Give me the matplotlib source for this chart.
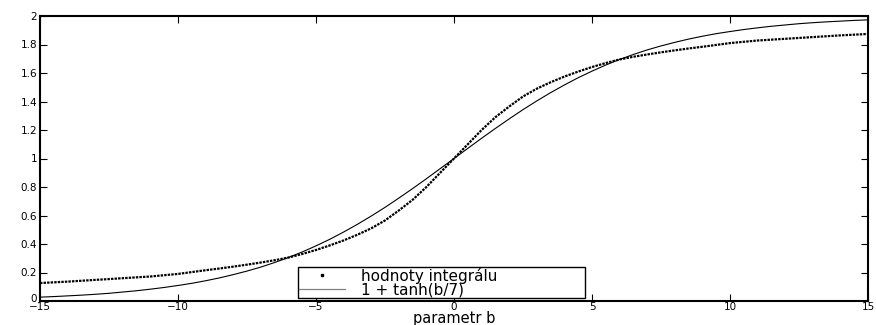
import matplotlib
matplotlib.use("Agg")
import matplotlib.pyplot as plt
import matplotlib.transforms as mtransforms
from matplotlib.lines import Line2D

plt.rcParams['font.family'] = ['DejaVu Sans']

# parameter b (step 0.5)
b_values = [-15.0, -14.5, -14.0, -13.5, -13.0, -12.5, -12.0, -11.5, -11.0, -10.5,
            -10.0, -9.5, -9.0, -8.5, -8.0, -7.5, -7.0, -6.5, -6.0, -5.5,
            -5.0, -4.5, -4.0, -3.5, -3.0, -2.5, -2.0, -1.5, -1.0, -0.5,
            0.0, 0.5, 1.0, 1.5, 2.0, 2.5, 3.0, 3.5, 4.0, 4.5,
            5.0, 5.5, 6.0, 6.5, 7.0, 7.5, 8.0, 8.5, 9.0, 9.5,
            10.0, 10.5, 11.0, 11.5, 12.0, 12.5, 13.0, 13.5, 14.0, 14.5, 15.0]

# "hodnoty integrálu"
integral_values = [0.126, 0.131, 0.136, 0.142, 0.148, 0.154, 0.160, 0.166, 0.172, 0.181,
                   0.190, 0.203, 0.216, 0.228, 0.241, 0.255, 0.270, 0.286, 0.305, 0.330,
                   0.358, 0.390, 0.425, 0.465, 0.510, 0.565, 0.635, 0.710, 0.800, 0.900,
                   1.000, 1.100, 1.200, 1.290, 1.365, 1.435, 1.490, 1.535, 1.575, 1.610,
                   1.642, 1.670, 1.695, 1.714, 1.730, 1.745, 1.759, 1.772, 1.784, 1.797,
                   1.810, 1.819, 1.828, 1.834, 1.840, 1.846, 1.852, 1.858, 1.864, 1.869, 1.874]

# "1 + tanh(b/7)"
tanh_values = [0.027, 0.031, 0.036, 0.041, 0.047, 0.054, 0.063, 0.072, 0.083, 0.095,
               0.109, 0.124, 0.142, 0.162, 0.185, 0.210, 0.238, 0.270, 0.305, 0.344,
               0.387, 0.433, 0.484, 0.538, 0.596, 0.657, 0.722, 0.789, 0.858, 0.929,
               1.000, 1.071, 1.142, 1.211, 1.278, 1.343, 1.404, 1.462, 1.516, 1.567,
               1.613, 1.656, 1.695, 1.730, 1.762, 1.790, 1.815, 1.838, 1.858, 1.876,
               1.891, 1.905, 1.917, 1.928, 1.937, 1.946, 1.953, 1.959, 1.964, 1.969, 1.973]

x_ticks = [-15, -10, -5, 0, 5, 10, 15]
y_ticks = [0, 0.2, 0.4, 0.6, 0.8, 1.0, 1.2, 1.4, 1.6, 1.8, 2.0]
y_tick_labels = ["0", "0.2", "0.4", "0.6", "0.8", "1", "1.2", "1.4", "1.6", "1.8", "2"]

fig = plt.figure(figsize=(8.76, 3.25), dpi=100)
ax = fig.add_axes([40/876, 1-301/325, 828/876, 285/325])

ax.plot(b_values, integral_values, color='black', lw=1.6, linestyle=(0, (1.1, 0.5)))
ax.plot(b_values, tanh_values, color='black', lw=0.8)

ax.set_xlim(-15, 15)
ax.set_ylim(0, 2)
ax.set_xticks(x_ticks)
ax.set_yticks(y_ticks)
ax.set_yticklabels(y_tick_labels)
ax.tick_params(direction='in', top=True, right=True, length=5, width=0.8,
               labelsize=7.5, pad=2)
ax.tick_params(axis='x', pad=1)
for s in ax.spines.values():
    s.set_linewidth(1.5)
ax.set_xlabel("parametr b", fontsize=10.5, labelpad=-1)

# lift the "0" y tick label slightly, as in the reference
lbl0 = ax.get_yticklabels()[0]
lbl0.set_transform(lbl0.get_transform() +
                   mtransforms.ScaledTranslation(0, 3/100, fig.dpi_scale_trans))

handles = [Line2D([], [], ls='none', marker='s', ms=1.8, color='black'),
           Line2D([], [], color='gray', lw=0.9)]
leg = ax.legend(handles, ["hodnoty integrálu", "1 + tanh(b/7)"],
                loc='lower left', bbox_to_anchor=(258/828, 3/285, 287/828, 29/285),
                mode='expand', fontsize=11, frameon=True, fancybox=False, framealpha=1,
                edgecolor='black', borderpad=0.05, labelspacing=-0.1,
                handlelength=3.0, handletextpad=1.1, borderaxespad=0)
leg.get_frame().set_linewidth(1.0)

fig.savefig("out.png", dpi=100)
